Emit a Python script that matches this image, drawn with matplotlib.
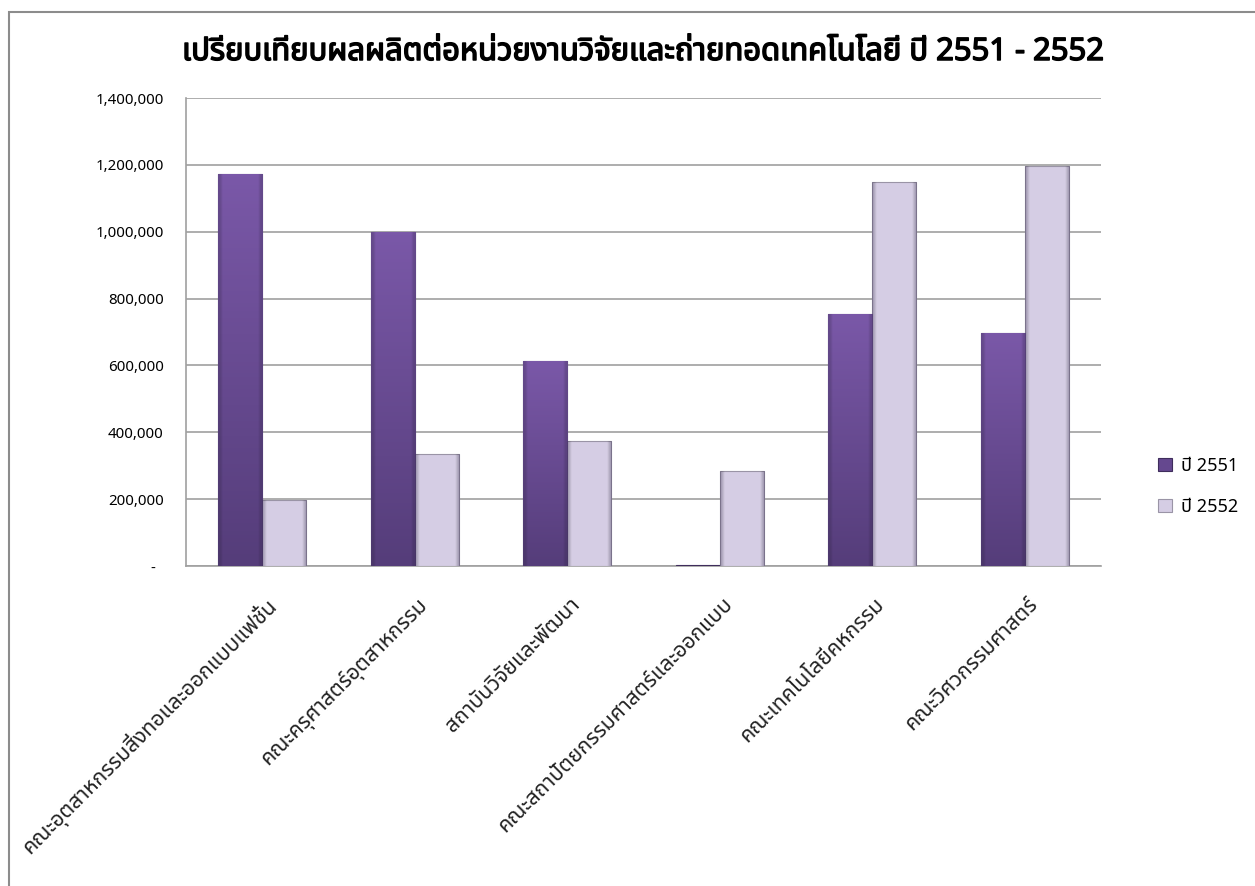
import numpy as np
import matplotlib
matplotlib.use('Agg')
import matplotlib.pyplot as plt
import matplotlib.transforms as mtransforms
import matplotlib.patheffects as pe
from matplotlib import font_manager
from matplotlib.ft2font import FT2Font
from matplotlib.ticker import FuncFormatter
from matplotlib.patches import Rectangle

# ข้อมูล
categories = ['คณะอุตสาหกรรมสิ่งทอและออกแบบแฟชั่น',
              'คณะครุศาสตร์อุตสาหกรรม',
              'สถาบันวิจัยและพัฒนา',
              'คณะสถาปัตยกรรมศาสตร์และออกแบบ',
              'คณะเทคโนโลยีคหกรรม',
              'คณะวิศวกรรมศาสตร์']
y2551 = [1174000, 998000, 613000, 4000, 755000, 697000]
y2552 = [196000, 335000, 373000, 283000, 1149000, 1198000]
series_names = ['ปี 2551', 'ปี 2552']
title = 'เปรียบเทียบผลผลิตต่อหน่วยงานวิจัยและถ่ายทอดเทคโนโลยี ปี 2551 - 2552'
yticks = np.arange(0, 1400001, 200000)


# หา font ที่มีอักษรไทย
def thai_family():
    found = []
    for f in font_manager.fontManager.ttflist:
        try:
            if 0x0E01 in FT2Font(f.fname).get_charmap():
                found.append(f.name)
        except Exception:
            pass
    for pref in ['Tahoma', 'Leelawadee', 'Noto Sans Thai', 'Loma', 'Garuda',
                 'Sarabun', 'Umpush', 'Kinnari', 'Norasi']:
        if pref in found:
            return pref
    return found[0] if found else 'DejaVu Sans'


thai = thai_family()
plt.rcParams['font.family'] = [thai, 'DejaVu Sans']

fig = plt.figure(figsize=(12.55, 8.86), dpi=100)
ax = fig.add_axes([186/1255, 1-566/886, (1101-186)/1255, (566-98)/886])

# กรอบรอบรูป
fig.patches.append(Rectangle((9/1255, -0.05), 1.1, 1-12/886+0.05, transform=fig.transFigure,
                             fill=False, edgecolor='#8c8c8c', linewidth=1.5))

x = np.arange(len(categories))
w = 0.29
b1 = ax.bar(x - w/2, y2551, w, color='#65488f', edgecolor='#3f2d5c', linewidth=0.8,
            label=series_names[0], zorder=3)
b2 = ax.bar(x + w/2, y2552, w, color='#d5cde4', edgecolor='#9a94a6', linewidth=0.8,
            label=series_names[1], zorder=3)

# เงาไล่สีบนแท่ง
grad_dark = np.linspace(0, 1, 100).reshape(-1, 1)
cm_dark = matplotlib.colors.LinearSegmentedColormap.from_list('d', ['#553d7a', '#7a58a8'])
for bar in b1:
    h = bar.get_height()
    if h < 20000:
        continue
    im = ax.imshow(grad_dark, extent=(bar.get_x(), bar.get_x()+bar.get_width(), 0, h),
                   aspect='auto', cmap=cm_dark, origin='lower', zorder=3.5)
    im.set_clip_path(bar)
hgrad = np.abs(np.linspace(-1, 1, 60)).reshape(1, -1)
cm_edge = matplotlib.colors.LinearSegmentedColormap.from_list(
    'e', [(0, (0, 0, 0, 0)), (0.8, (0, 0, 0, 0)), (1, (0.25, 0.2, 0.35, 0.35))])
for bar in list(b1) + list(b2):
    h = bar.get_height()
    if h < 20000:
        continue
    im = ax.imshow(hgrad, extent=(bar.get_x(), bar.get_x()+bar.get_width(), 0, h),
                   aspect='auto', cmap=cm_edge, zorder=3.6)
    im.set_clip_path(bar)

ax.set_xlim(-0.5, len(categories) - 0.5)
ax.set_ylim(0, 1400000)
ax.set_yticks(yticks)
ax.yaxis.set_major_formatter(FuncFormatter(lambda v, p: '-  ' if v == 0 else f'{int(v):,}'))
ax.grid(axis='y', color='#a0a0a0', linewidth=1.2, zorder=0)
ax.set_axisbelow(True)
for s in ['top', 'right']:
    ax.spines[s].set_visible(False)
for s in ['left', 'bottom']:
    ax.spines[s].set_color('#a0a0a0')
    ax.spines[s].set_linewidth(1.2)
ax.tick_params(axis='y', length=0, pad=16, labelsize=10.8)
ax.tick_params(axis='x', length=0, pad=20)

ax.set_xticks(x)
ax.set_xticklabels(categories, rotation=45, ha='right', rotation_mode='anchor',
                   fontsize=15.3, color='#222222')
off = mtransforms.ScaledTranslation(2/100, 0, fig.dpi_scale_trans)
for lab in ax.get_xticklabels():
    lab.set_transform(lab.get_transform() + off)

fig.text(0.512, 1-52/886, title, ha='center', va='center', fontsize=22.3,
         path_effects=[pe.withStroke(linewidth=1.1, foreground='black')])

ax.legend(loc='center left', bbox_to_anchor=(1.045, 0.17), frameon=False, fontsize=13,
          handlelength=0.75, handleheight=0.75, handletextpad=0.5, labelspacing=1.3)

plt.savefig('out.png', dpi=100)
